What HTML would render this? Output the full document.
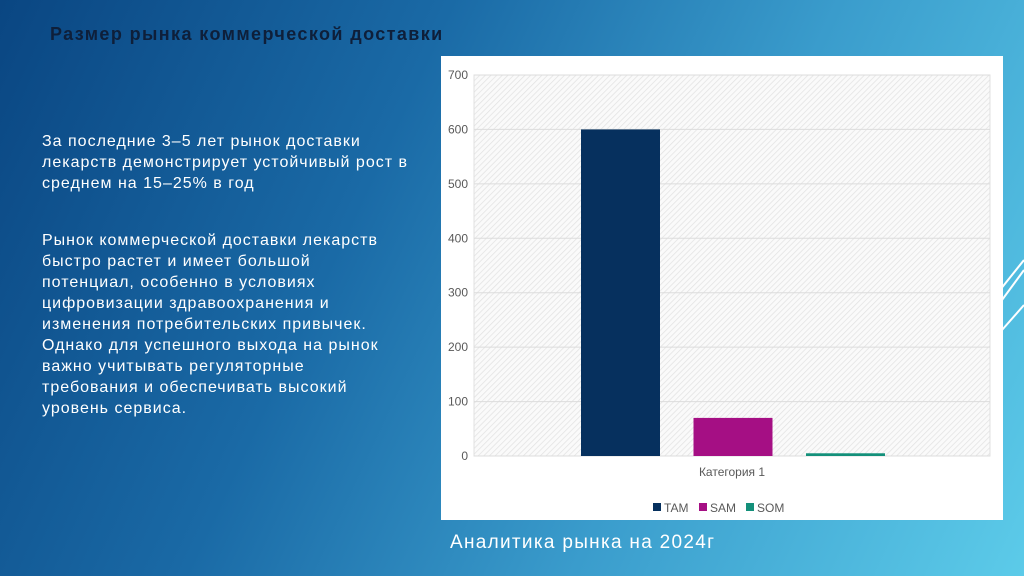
<!DOCTYPE html>
<html><head><meta charset="utf-8"><style>
body{margin:0;width:1024px;height:576px;overflow:hidden;font-family:"Liberation Sans",sans-serif;}
#bg{position:absolute;left:0;top:0;width:1024px;height:576px;background:linear-gradient(115deg,#0a4682 0%,#1a6aa6 35%,#3a9ccc 65%,#5ccbe9 100%);}
#title{position:absolute;left:50px;top:24px;font-size:18px;font-weight:bold;color:#0e1f3a;letter-spacing:1.4px;}
.p{position:absolute;left:42px;color:#fff;font-size:16px;line-height:21px;letter-spacing:1px;}
#sub{position:absolute;left:450px;top:532px;color:#fff;font-size:19px;letter-spacing:1.3px;}
#panel{position:absolute;left:441px;top:56px;width:562px;height:464px;background:#fff;}
</style></head><body>
<div id="bg"></div>
<svg style="position:absolute;left:990px;top:250px" width="34" height="90">
<g stroke="#fff" stroke-width="2" fill="none"><line x1="34" y1="10" x2="10" y2="40"/><line x1="34" y1="20" x2="12" y2="50"/><line x1="34" y1="55" x2="12" y2="80"/></g></svg>
<div id="title">Размер рынка коммерческой доставки</div>
<div class="p" style="top:131px">За последние 3–5 лет рынок доставки<br>лекарств демонстрирует устойчивый рост в<br>среднем на 15–25% в год</div>
<div class="p" style="top:230px">Рынок коммерческой доставки лекарств<br>быстро растет и имеет большой<br>потенциал, особенно в условиях<br>цифровизации здравоохранения и<br>изменения потребительских привычек.<br>Однако для успешного выхода на рынок<br>важно учитывать регуляторные<br>требования и обеспечивать высокий<br>уровень сервиса.</div>
<div id="panel"></div>
<svg id="chart" style="position:absolute;left:0;top:0" width="1024" height="576">
<defs><pattern id="hatch" width="4" height="4" patternUnits="userSpaceOnUse" patternTransform="rotate(45)"><rect width="4" height="4" fill="#fafafa"/><line x1="0" y1="0" x2="0" y2="4" stroke="#e2e2e2" stroke-width="1.5"/></pattern></defs>
<rect x="474" y="75" width="516" height="381" fill="url(#hatch)" stroke="#e0e0e0"/>
<g id="grid"></g><g id="bars"></g><g id="ticks"></g>
<text x="732" y="476" text-anchor="middle" font-size="12" fill="#595959">Категория 1</text>
<g id="legend"></g>
</svg>
<div id="sub">Аналитика рынка на 2024г</div>
<script>
const series=["TAM","SAM","SOM"];
const values=[600,70,5];
const colors=["#06305e","#a50f84","#13907a"];
const yTicks=[0,100,200,300,400,500,600,700];
const ns="http://www.w3.org/2000/svg";
const y0=456,y1=75,vmax=700;
function y(v){return y0-(v/vmax)*(y0-y1);}
function mk(t,a,p){const e=document.createElementNS(ns,t);for(const k in a)e.setAttribute(k,a[k]);p.appendChild(e);return e;}
const g=document.getElementById('grid'),tk=document.getElementById('ticks'),b=document.getElementById('bars'),lg=document.getElementById('legend');
yTicks.forEach(v=>{
 const l=mk('line',{x1:474,x2:990,y1:y(v),y2:y(v),stroke:'#dcdcdc'},g);
 
 
 const t=mk('text',{x:468,y:y(v)+4,'text-anchor':'end','font-size':12,fill:'#595959'},tk);t.textContent=v;
 
 
});
const bx0=581,bw=79,gap=112.5;
values.forEach((v,i)=>{
 const r=mk('rect',{x:bx0+i*gap,y:y(v),width:bw,height:y0-y(v),fill:colors[i]},b);
 
 
});
const lx=[653,699,746];
series.forEach((s,i)=>{
 const r=mk('rect',{x:lx[i],y:503,width:8,height:8,fill:colors[i]},lg);
 
 
 const t=mk('text',{x:lx[i]+11,y:512,'font-size':12,fill:'#595959'},lg);t.textContent=s;
 
 
});
</script>
</body></html>
